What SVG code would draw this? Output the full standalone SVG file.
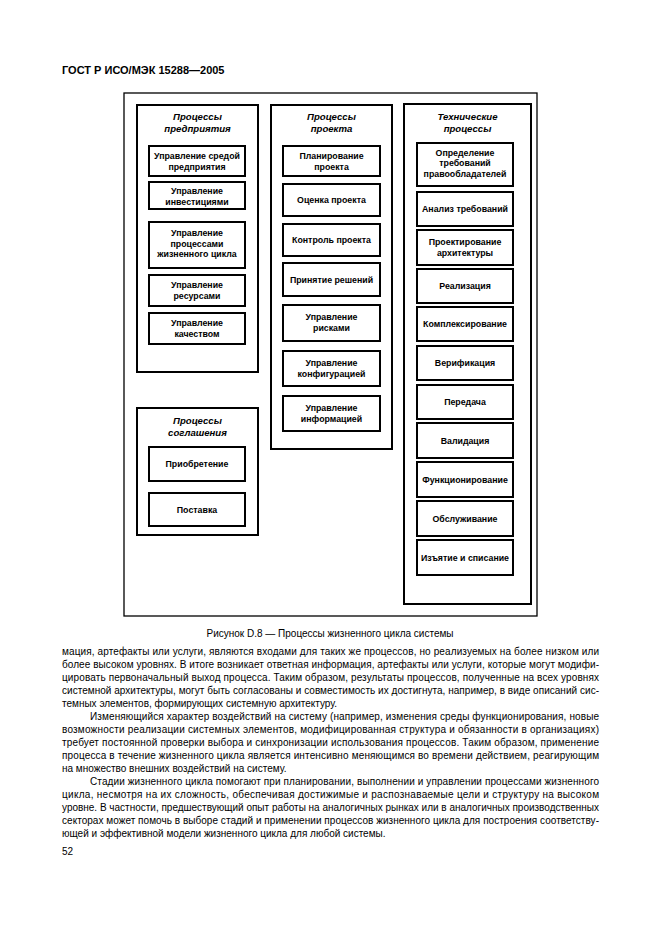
<svg xmlns="http://www.w3.org/2000/svg" width="661" height="936" viewBox="0 0 661 936">
<style>
.bg{fill:#fff}
.frame{fill:none;stroke:#000;stroke-width:1.3}
.grp{fill:none;stroke:#000;stroke-width:2}
.box{fill:#fff;stroke:#000;stroke-width:2}
.t{font-family:"Liberation Sans",Arial,sans-serif;font-size:8.8px;font-weight:bold;text-anchor:middle;fill:#000}
.h{font-family:"Liberation Sans",Arial,sans-serif;font-size:9.6px;font-weight:bold;font-style:italic;text-anchor:middle;fill:#000}
.p{font-family:"Liberation Sans",Arial,sans-serif;font-size:10px;fill:#000}
.cap{font-family:"Liberation Sans",Arial,sans-serif;font-size:10px;fill:#000;text-anchor:middle}
.hdr{font-family:"Liberation Sans",Arial,sans-serif;font-size:11px;font-weight:bold;fill:#000}
</style>
<rect class="bg" x="0" y="0" width="661" height="936"/>
<text class="hdr" x="62" y="74">ГОСТ Р ИСО/МЭК 15288—2005</text>
<rect class="frame" x="124" y="93" width="413" height="523"/>

<g id="enterprise">
<rect class="grp" x="137" y="105" width="121" height="267"/>
<text class="h" x="197.5" y="120">Процессы</text>
<text class="h" x="197.5" y="131.5">предприятия</text>
</g>
<g id="n-env"><rect class="box" x="149" y="146" width="96" height="30"/><text class="t" x="197" y="159">Управление средой</text><text class="t" x="197" y="169.5">предприятия</text></g>
<g id="n-inv"><rect class="box" x="149" y="182" width="96" height="27"/><text class="t" x="197" y="194">Управление</text><text class="t" x="197" y="204.5">инвестициями</text></g>
<g id="n-lc"><rect class="box" x="149" y="222" width="96" height="46"/><text class="t" x="197" y="236">Управление</text><text class="t" x="197" y="246.5">процессами</text><text class="t" x="197" y="257">жизненного цикла</text></g>
<g id="n-res"><rect class="box" x="149" y="275" width="96" height="31"/><text class="t" x="197" y="288">Управление</text><text class="t" x="197" y="298.5">ресурсами</text></g>
<g id="n-qual"><rect class="box" x="149" y="313" width="96" height="31"/><text class="t" x="197" y="326">Управление</text><text class="t" x="197" y="336.5">качеством</text></g>

<g id="agreement">
<rect class="grp" x="137" y="408" width="121" height="127"/>
<text class="h" x="197.5" y="424">Процессы</text>
<text class="h" x="197.5" y="435.5">соглашения</text>
</g>
<g id="n-acq"><rect class="box" x="149" y="447" width="96" height="34"/><text class="t" x="197" y="467">Приобретение</text></g>
<g id="n-sup"><rect class="box" x="149" y="493" width="96" height="33"/><text class="t" x="197" y="512.5">Поставка</text></g>

<g id="project">
<rect class="grp" x="271" y="105" width="121" height="344"/>
<text class="h" x="331.5" y="120">Процессы</text>
<text class="h" x="331.5" y="131.5">проекта</text>
</g>
<g id="n-plan"><rect class="box" x="283" y="146" width="97" height="30"/><text class="t" x="331.5" y="159">Планирование</text><text class="t" x="331.5" y="169.5">проекта</text></g>
<g id="n-eval"><rect class="box" x="283" y="184" width="97" height="32"/><text class="t" x="331.5" y="203">Оценка проекта</text></g>
<g id="n-ctrl"><rect class="box" x="283" y="224" width="97" height="32"/><text class="t" x="331.5" y="243">Контроль проекта</text></g>
<g id="n-dec"><rect class="box" x="283" y="263" width="97" height="33"/><text class="t" x="331.5" y="282.5">Принятие решений</text></g>
<g id="n-risk"><rect class="box" x="283" y="305" width="97" height="36"/><text class="t" x="331.5" y="320">Управление</text><text class="t" x="331.5" y="330.5">рисками</text></g>
<g id="n-conf"><rect class="box" x="283" y="351" width="97" height="35"/><text class="t" x="331.5" y="366">Управление</text><text class="t" x="331.5" y="376.5">конфигурацией</text></g>
<g id="n-info"><rect class="box" x="283" y="396" width="97" height="35"/><text class="t" x="331.5" y="411">Управление</text><text class="t" x="331.5" y="421.5">информацией</text></g>

<g id="technical">
<rect class="grp" x="404" y="104" width="127" height="500"/>
<text class="h" x="467.5" y="120">Технические</text>
<text class="h" x="467.5" y="131.5">процессы</text>
</g>
<g id="n-req"><rect class="box" x="417" y="143" width="96" height="43"/><text class="t" x="465" y="155.5">Определение</text><text class="t" x="465" y="166">требований</text><text class="t" x="465" y="176.5">правообладателей</text></g>
<g id="n-anl"><rect class="box" x="417" y="192" width="96" height="34"/><text class="t" x="465" y="212">Анализ требований</text></g>
<g id="n-arch"><rect class="box" x="417" y="230" width="96" height="35"/><text class="t" x="465" y="245">Проектирование</text><text class="t" x="465" y="255.5">архитектуры</text></g>
<g id="n-impl"><rect class="box" x="417" y="269" width="96" height="34"/><text class="t" x="465" y="289">Реализация</text></g>
<g id="n-integ"><rect class="box" x="417" y="307" width="96" height="34"/><text class="t" x="465" y="327">Комплексирование</text></g>
<g id="n-verif"><rect class="box" x="417" y="346" width="96" height="34"/><text class="t" x="465" y="366">Верификация</text></g>
<g id="n-trans"><rect class="box" x="417" y="385" width="96" height="34"/><text class="t" x="465" y="405">Передача</text></g>
<g id="n-valid"><rect class="box" x="417" y="423" width="96" height="35"/><text class="t" x="465" y="443.5">Валидация</text></g>
<g id="n-oper"><rect class="box" x="417" y="462" width="96" height="35"/><text class="t" x="465" y="482.5">Функционирование</text></g>
<g id="n-maint"><rect class="box" x="417" y="501" width="96" height="35"/><text class="t" x="465" y="521.5">Обслуживание</text></g>
<g id="n-disp"><rect class="box" x="417" y="540" width="96" height="35"/><text class="t" x="465" y="560.5">Изъятие и списание</text></g>

<g id="connectors"></g>

<text class="cap" x="330" y="637">Рисунок D.8 — Процессы жизненного цикла системы</text>

<g id="body">
<text class="p" x="62" y="655" textLength="537" lengthAdjust="spacing">мация, артефакты или услуги, являются входами для таких же процессов, но реализуемых на более низком или</text>
<text class="p" x="62" y="668" textLength="537" lengthAdjust="spacing">более высоком уровнях. В итоге возникает ответная информация, артефакты или услуги, которые могут модифи-</text>
<text class="p" x="62" y="681" textLength="537" lengthAdjust="spacing">цировать первоначальный выход процесса. Таким образом, результаты процессов, полученные на всех уровнях</text>
<text class="p" x="62" y="694" textLength="537" lengthAdjust="spacing">системной архитектуры, могут быть согласованы и совместимость их достигнута, например, в виде описаний сис-</text>
<text class="p" x="62" y="707">темных элементов, формирующих системную архитектуру.</text>
<text class="p" x="90" y="720" textLength="509" lengthAdjust="spacing">Изменяющийся характер воздействий на систему (например, изменения среды функционирования, новые</text>
<text class="p" x="62" y="733" textLength="537" lengthAdjust="spacing">возможности реализации системных элементов, модифицированная структура и обязанности в организациях)</text>
<text class="p" x="62" y="746" textLength="537" lengthAdjust="spacing">требует постоянной проверки выбора и синхронизации использования процессов. Таким образом, применение</text>
<text class="p" x="62" y="759" textLength="537" lengthAdjust="spacing">процесса в течение жизненного цикла является интенсивно меняющимся во времени действием, реагирующим</text>
<text class="p" x="62" y="772">на множество внешних воздействий на систему.</text>
<text class="p" x="90" y="785" textLength="509" lengthAdjust="spacing">Стадии жизненного цикла помогают при планировании, выполнении и управлении процессами жизненного</text>
<text class="p" x="62" y="798" textLength="537" lengthAdjust="spacing">цикла, несмотря на их сложность, обеспечивая достижимые и распознаваемые цели и структуру на высоком</text>
<text class="p" x="62" y="811" textLength="537" lengthAdjust="spacing">уровне. В частности, предшествующий опыт работы на аналогичных рынках или в аналогичных производственных</text>
<text class="p" x="62" y="824" textLength="537" lengthAdjust="spacing">секторах может помочь в выборе стадий и применении процессов жизненного цикла для построения соответству-</text>
<text class="p" x="62" y="837">ющей и эффективной модели жизненного цикла для любой системы.</text>
<text class="p" x="62" y="855">52</text>
</g>
</svg>
